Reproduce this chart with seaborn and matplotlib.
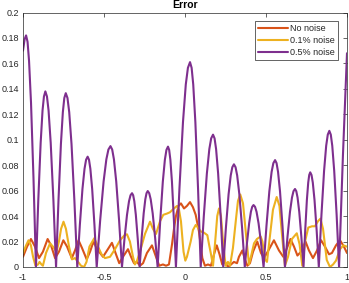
import numpy as np
import pandas as pd
import matplotlib
matplotlib.use("Agg")
import matplotlib.pyplot as plt
import seaborn as sns
from matplotlib.ticker import FuncFormatter

# --- data ---
series_names = ["No noise", "0.1% noise", "0.5% noise"]
series_colors = ["#D95319", "#EDB120", "#7E2F8E"]

x_no_noise = [-1.000, -0.975, -0.951, -0.926, -0.901, -0.877, -0.848, -0.827, -0.802, -0.778,
              -0.751, -0.728, -0.699, -0.679, -0.657, -0.636, -0.607, -0.586, -0.565, -0.543,
              -0.506, -0.481, -0.451, -0.426, -0.406, -0.383, -0.352, -0.333, -0.315, -0.296,
              -0.278, -0.259, -0.235, -0.204, -0.179, -0.159, -0.136, -0.117, -0.099, -0.080,
              -0.068, -0.056, -0.040, -0.025, -0.006, 0.012, 0.031, 0.049, 0.066, 0.086,
              0.107, 0.123, 0.142, 0.160, 0.179, 0.196, 0.213, 0.230, 0.247, 0.265,
              0.284, 0.302, 0.321, 0.333, 0.354, 0.370, 0.385, 0.401, 0.420, 0.446,
              0.469, 0.488, 0.519, 0.549, 0.580, 0.607, 0.630, 0.651, 0.673, 0.694,
              0.716, 0.744, 0.765, 0.790, 0.815, 0.840, 0.864, 0.889, 0.907, 0.932,
              0.957, 0.981, 1.000]
y_no_noise = [0.008, 0.016, 0.022, 0.016, 0.007, 0.012, 0.022, 0.017, 0.007, 0.012,
              0.021, 0.016, 0.007, 0.013, 0.021, 0.015, 0.006, 0.012, 0.020, 0.014,
              0.008, 0.013, 0.019, 0.010, 0.003, 0.008, 0.014, 0.008, 0.003, 0.004,
              0.001, 0.003, 0.011, 0.017, 0.008, 0.001, 0.002, 0.001, 0.002, 0.018,
              0.030, 0.040, 0.048, 0.050, 0.046, 0.048, 0.051, 0.047, 0.041, 0.028,
              0.007, 0.001, 0.002, 0.001, 0.010, 0.017, 0.010, 0.002, 0.004, 0.000,
              0.002, 0.004, 0.003, 0.008, 0.013, 0.006, 0.001, 0.003, 0.012, 0.020,
              0.011, 0.007, 0.014, 0.021, 0.013, 0.008, 0.015, 0.022, 0.016, 0.009,
              0.012, 0.020, 0.013, 0.007, 0.013, 0.021, 0.016, 0.010, 0.011, 0.017,
              0.021, 0.016, 0.011]

x_low_noise = [-1.000, -0.981, -0.966, -0.951, -0.938, -0.923, -0.907, -0.898, -0.886, -0.877,
               -0.858, -0.833, -0.815, -0.793, -0.778, -0.765, -0.750, -0.735, -0.716, -0.698,
               -0.679, -0.660, -0.642, -0.623, -0.608, -0.590, -0.560, -0.537, -0.515, -0.494,
               -0.463, -0.432, -0.401, -0.373, -0.358, -0.340, -0.321, -0.309, -0.296, -0.278,
               -0.247, -0.216, -0.198, -0.179, -0.154, -0.134, -0.111, -0.093, -0.068, -0.049,
               -0.037, -0.025, -0.009, 0.002, 0.012, 0.035, 0.049, 0.066, 0.080, 0.097,
               0.117, 0.138, 0.148, 0.159, 0.173, 0.185, 0.199, 0.210, 0.222, 0.238,
               0.251, 0.265, 0.278, 0.296, 0.315, 0.327, 0.341, 0.358, 0.377, 0.395,
               0.407, 0.426, 0.444, 0.467, 0.478, 0.494, 0.506, 0.525, 0.543, 0.566,
               0.583, 0.599, 0.617, 0.636, 0.660, 0.690, 0.707, 0.724, 0.741, 0.761,
               0.784, 0.802, 0.821, 0.836, 0.852, 0.875, 0.895, 0.914, 0.932, 0.957,
               0.977, 1.000]
y_low_noise = [0.011, 0.017, 0.021, 0.017, 0.008, 0.001, 0.002, 0.004, 0.002, 0.001,
               0.011, 0.0186, 0.016, 0.012, 0.020, 0.030, 0.0356, 0.030, 0.016, 0.006,
               0.007, 0.004, 0.001, 0.000, 0.004, 0.016, 0.0226, 0.016, 0.010, 0.007,
               0.008, 0.014, 0.021, 0.025, 0.0257, 0.020, 0.008, 0.002, 0.005, 0.012,
               0.026, 0.0356, 0.030, 0.026, 0.036, 0.041, 0.042, 0.043, 0.046, 0.048,
               0.045, 0.036, 0.012, 0.005, 0.008, 0.020, 0.029, 0.033, 0.031, 0.028,
               0.027, 0.025, 0.018, 0.011, 0.001, 0.018, 0.040, 0.046, 0.040, 0.015,
               0.001, 0.004, 0.001, 0.015, 0.038, 0.052, 0.057, 0.050, 0.025, 0.002,
               0.008, 0.0186, 0.022, 0.024, 0.020, 0.006, 0.004, 0.025, 0.045, 0.055,
               0.048, 0.025, 0.001, 0.008, 0.022, 0.0265, 0.018, 0.001, 0.020, 0.031,
               0.032, 0.032, 0.036, 0.038, 0.030, 0.0055, 0.000, 0.002, 0.005, 0.014,
               0.017, 0.016]

x_high_noise = [-1.000, -0.990, -0.981, -0.9719, -0.9627, -0.9505, -0.9353, -0.920,
                -0.9055, -0.891, -0.8794, -0.8707, -0.862, -0.8521, -0.8422, -0.829, -0.8125, -0.796,
                -0.781, -0.766, -0.754, -0.745, -0.736, -0.7254, -0.7147, -0.7005, -0.6828, -0.665,
                -0.649, -0.633, -0.6202, -0.6106, -0.601, -0.5926, -0.5842, -0.573, -0.559, -0.545,
                -0.5238, -0.5025, -0.4855, -0.4728, -0.460, -0.4494, -0.4387, -0.4245, -0.4068, -0.389,
                -0.3735, -0.358, -0.3456, -0.3363, -0.327, -0.320, -0.3129, -0.3035, -0.2918, -0.280,
                -0.2675, -0.255, -0.245, -0.2375, -0.230, -0.2209, -0.2117, -0.1995, -0.1843, -0.169,
                -0.153, -0.137, -0.1242, -0.1146, -0.105, -0.0977, -0.0903, -0.0805, -0.0683, -0.056,
                -0.0343, -0.0125, 0.0049, 0.0180, 0.031, 0.0409, 0.0508, 0.064, 0.0805, 0.097,
                0.116, 0.135, 0.1502, 0.1616, 0.173, 0.1825, 0.1919, 0.2045, 0.2203, 0.236,
                0.2525, 0.269, 0.2822, 0.2921, 0.302, 0.3121, 0.3221, 0.3355, 0.3523, 0.369,
                0.3825, 0.396, 0.4068, 0.4149, 0.423, 0.4323, 0.4416, 0.454, 0.4695, 0.485,
                0.5028, 0.5205, 0.5347, 0.5454, 0.556, 0.5652, 0.5743, 0.5865, 0.6018, 0.617,
                0.6325, 0.648, 0.6604, 0.6697, 0.679, 0.6869, 0.6948, 0.7053, 0.7184, 0.7315,
                0.7419, 0.7523, 0.7606, 0.7668, 0.773, 0.781, 0.7889, 0.7995, 0.8128, 0.826,
                0.8423, 0.8585, 0.8715, 0.8813, 0.891, 0.900, 0.909, 0.921, 0.936, 0.951,
                0.963, 0.975, 0.988, 1.000]
y_high_noise = [0.170, 0.179, 0.182, 0.177, 0.162, 0.129, 0.070, 0.000,
                0.053, 0.0976, 0.123, 0.134, 0.138, 0.134, 0.123, 0.0976, 0.053, 0.000,
                0.0523, 0.0966, 0.1217, 0.1328, 0.1366, 0.1328, 0.1217, 0.0966, 0.0523, 0.000,
                0.0332, 0.0613, 0.0772, 0.0843, 0.0867, 0.0843, 0.0772, 0.0613, 0.0332, 0.000,
                0.0364, 0.0672, 0.0846, 0.0923, 0.095, 0.0923, 0.0846, 0.0672, 0.0364, 0.000,
                0.0222, 0.0410, 0.0517, 0.0564, 0.058, 0.0564, 0.0517, 0.0410, 0.0222, 0.000,
                0.0229, 0.0422, 0.0532, 0.058, 0.0597, 0.058, 0.0532, 0.0422, 0.0229, 0.000,
                0.0362, 0.0669, 0.0843, 0.092, 0.0946, 0.092, 0.0843, 0.0669, 0.0362, 0.000,
                0.0617, 0.1138, 0.1435, 0.1565, 0.161, 0.1565, 0.1435, 0.1138, 0.0617, 0.000,
                0.0398, 0.0735, 0.0927, 0.1011, 0.104, 0.1011, 0.0927, 0.0735, 0.0398, 0.000,
                0.0309, 0.0571, 0.0719, 0.0784, 0.0807, 0.0784, 0.0719, 0.0571, 0.0309, 0.000,
                0.0187, 0.0344, 0.0434, 0.0473, 0.0487, 0.0473, 0.0434, 0.0344, 0.0187, 0.000,
                0.0322, 0.0594, 0.0748, 0.0816, 0.084, 0.0816, 0.0748, 0.0594, 0.0322, 0.000,
                0.0235, 0.0433, 0.0546, 0.0596, 0.0613, 0.0596, 0.0546, 0.0433, 0.0235, 0.000,
                0.0285, 0.0526, 0.0663, 0.0723, 0.0744, 0.0723, 0.0663, 0.0526, 0.0285, 0.000,
                0.041, 0.0756, 0.0953, 0.104, 0.107, 0.104, 0.0953, 0.0756, 0.041, 0.000,
                0.045, 0.088, 0.130, 0.168]

x_ticks = [-1, -0.5, 0, 0.5, 1]
y_ticks = [0, 0.02, 0.04, 0.06, 0.08, 0.1, 0.12, 0.14, 0.16, 0.18, 0.2]

frames = []
for name, xs, ys in zip(series_names,
                        [x_no_noise, x_low_noise, x_high_noise],
                        [y_no_noise, y_low_noise, y_high_noise]):
    frames.append(pd.DataFrame({"x": xs, "error": ys, "series": name}))
df = pd.concat(frames, ignore_index=True)

sns.set_style("white")
plt.rcParams["font.family"] = ["Liberation Sans", "DejaVu Sans"]
axis_color = "#262626"

fig = plt.figure(figsize=(3.49, 2.83), dpi=100)
ax = fig.add_axes([23 / 349, 16 / 283, 324 / 349, 254.5 / 283])

sns.lineplot(data=df, x="x", y="error", hue="series", hue_order=series_names,
             palette=series_colors, sort=False, estimator=None, linewidth=1.5, ax=ax)

ax.set_xlim(-1, 1)
ax.set_ylim(0, 0.2)
ax.set_xticks(x_ticks)
ax.set_yticks(y_ticks)
ax.xaxis.set_major_formatter(FuncFormatter(lambda v, p: f"{v:g}"))
ax.yaxis.set_major_formatter(FuncFormatter(lambda v, p: f"{v:g}"))
ax.set_xlabel("")
ax.set_ylabel("")
ax.set_title("Error", fontsize=7.5, fontweight="bold", color="black", pad=3)

ax.tick_params(direction="in", length=3, width=0.5, labelsize=6.5,
               colors=axis_color, top=True, right=True)
ax.tick_params(axis="x", pad=4)
ax.tick_params(axis="y", pad=3)
for spine in ax.spines.values():
    spine.set_visible(True)
    spine.set_linewidth(0.5)
    spine.set_color(axis_color)

leg = ax.legend(loc="upper right", bbox_to_anchor=(338.3 / 349, 1 - 20.7 / 283),
                bbox_transform=fig.transFigure, borderaxespad=0, fontsize=6.5,
                frameon=True, fancybox=False, framealpha=1, edgecolor=axis_color,
                handlelength=3.3, handletextpad=0.3, labelspacing=0.35,
                borderpad=0.35)
leg.get_frame().set_linewidth(0.5)

fig.savefig("out.png", dpi=100)
